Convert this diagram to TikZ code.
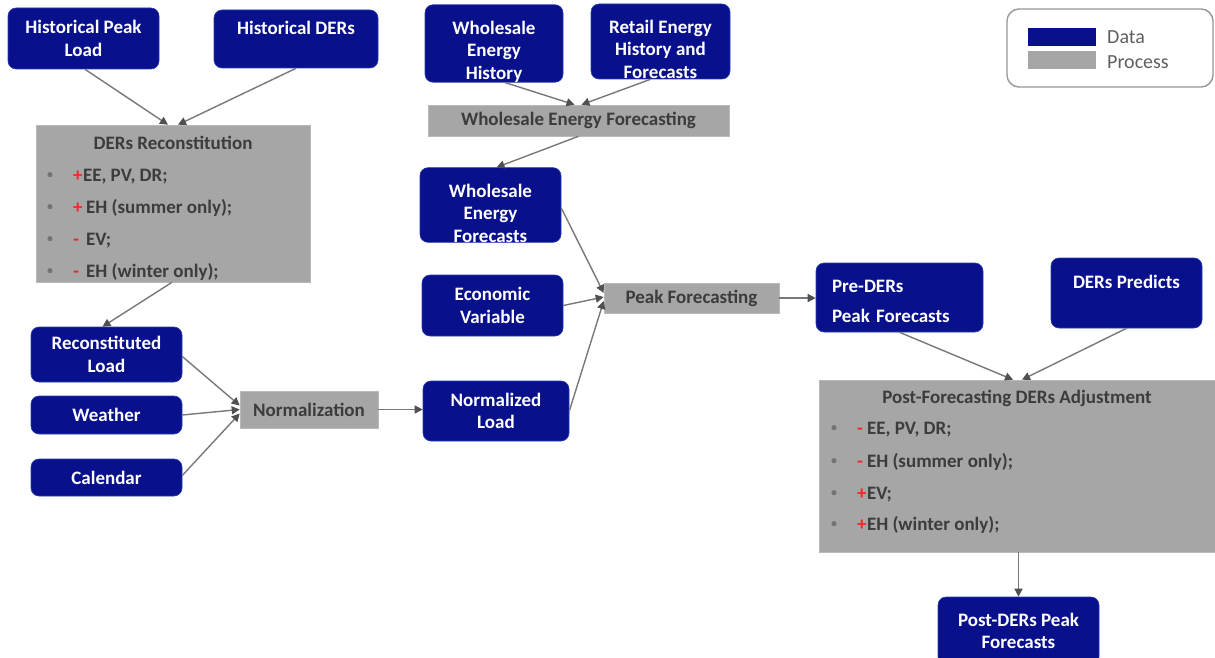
\documentclass[tikz,border=0pt]{standalone}
\usepackage{fontspec}
\setmainfont{Carlito}
\usetikzlibrary{arrows.meta}
\definecolor{navy}{RGB}{8,16,140}
\definecolor{navyedge}{RGB}{40,60,175}
\definecolor{procgray}{RGB}{166,166,166}
\definecolor{procedge}{RGB}{185,185,185}
\definecolor{proctext}{RGB}{60,60,60}
\definecolor{linegray}{RGB}{120,120,120}
\definecolor{tipgray}{RGB}{80,80,80}
\definecolor{signred}{RGB}{238,40,40}
\definecolor{bulletgray}{RGB}{115,115,115}
\definecolor{legendedge}{RGB}{150,150,150}
\definecolor{legendtext}{RGB}{95,95,95}
\newcommand\brow[3][]{\hspace*{-3pt}\makebox[26pt][l]{\raisebox{3pt}{\fontsize{12}{12}\selectfont\color{bulletgray}\textbullet}}\makebox[10pt][l]{\color{signred}#2}#1#3}
\tikzset{
  databox/.style={draw=navyedge, line width=0.6pt, fill=navy, rounded corners=8pt,
    text=white, font=\fontsize{19}{22.5}\selectfont\bfseries, align=center, inner sep=0pt},
  procbox/.style={draw=procedge, line width=0.6pt, fill=procgray, text=proctext,
    font=\fontsize{19}{22.5}\selectfont\bfseries, inner sep=0pt},
  conn/.style={draw=linegray, line width=1.4pt, -{Triangle[length=8pt,width=8pt,color=tipgray]}},
  legendbox/.style={draw=legendedge, line width=1.4pt, rounded corners=12pt, inner sep=0pt},
  swatch/.style={inner sep=0pt, minimum width=68pt, minimum height=18pt},
  legendlabel/.style={text=legendtext, font=\fontsize{20}{22}\selectfont, anchor=west, inner sep=0pt}
}
\begin{document}
\begin{tikzpicture}[x=1pt, y=-1pt]
\useasboundingbox (0,0) rectangle (1215,658);

% legend
\node[legendbox, minimum width=206pt, minimum height=78pt] (legend) at (1110,48) {};
\node[swatch, fill=navy] (legdata) at (1062,37) {};
\node[swatch, fill=procgray] (legproc) at (1062,60) {};
\node[legendlabel] (legdatatxt) at (1107,37) {Data};
\node[legendlabel] (legproctxt) at (1107,62) {Process};

% data boxes
\node[databox, minimum width=151pt, minimum height=61pt] (hpl) at (83.5,38.5) {Historical Peak\\Load};
\node[databox, minimum width=164pt, minimum height=58pt] (hders) at (296,39) {Historical DERs\\\mbox{}};
\node[databox, minimum width=138pt, minimum height=73pt] (weh) at (494,43.5) {\mbox{}\\[7pt]Wholesale\\Energy\\History};
\node[databox, minimum width=139pt, minimum height=75pt] (reh) at (660.5,41.5) {\mbox{}\\[6.5pt]Retail Energy\\History and\\Forecasts};
\node[databox, minimum width=141pt, minimum height=74pt] (wefc) at (490.5,205) {\mbox{}\\[7pt]Wholesale\\Energy\\Forecasts};
\node[databox, minimum width=141pt, minimum height=61pt] (econ) at (492.5,305.5) {Economic\\Variable};
\node[databox, minimum width=167pt, minimum height=69pt, align=left, text width=135pt] (pre) at (899.5,297.5) {\mbox{}\\[-2.5pt]Pre-DERs\\[8pt]Peak Forecasts};
\node[databox, minimum width=151pt, minimum height=70pt] (dpred) at (1126.5,293) {DERs Predicts\\\mbox{}};
\node[databox, minimum width=151pt, minimum height=55pt] (rload) at (106.5,354.5) {Reconstituted\\Load};
\node[databox, minimum width=151pt, minimum height=38pt] (weather) at (106.5,415) {Weather};
\node[databox, minimum width=151pt, minimum height=37pt] (calendar) at (106.5,477.5) {Calendar};
\node[databox, minimum width=146pt, minimum height=60pt] (nload) at (496,411) {Normalized\\Load};
\node[databox, minimum width=161pt, minimum height=68pt] (post) at (1018.5,631) {Post-DERs Peak\\Forecasts};

% process boxes
\node[procbox, minimum width=301pt, minimum height=31pt] (wef) at (578.5,120.5) {Wholesale Energy Forecasting};
\node[procbox, minimum width=175pt, minimum height=30pt] (peak) at (691.5,298) {Peak Forecasting};
\node[procbox, minimum width=138pt, minimum height=37pt] (norm) at (309,409.5) {Normalization};
\node[procbox, minimum width=274pt, minimum height=157pt, align=left] (recon) at (173,203.5)
  {\mbox{}\\[0pt]\makebox[246pt]{DERs Reconstitution}\\[9.5pt]
   \brow{+}{EE, PV, DR;}\\[9.5pt]
   \brow[\,]{+}{EH (summer only);}\\[9.5pt]
   \brow[\,]{-}{EV;}\\[9.5pt]
   \brow[\,]{-}{EH (winter only);}};
\node[procbox, minimum width=396pt, minimum height=172pt, align=left] (pfda) at (1017,466)
  {\makebox[366pt]{Post-Forecasting DERs Adjustment}\\[9pt]
   \brow{-}{EE, PV, DR;}\\[10pt]
   \brow{-}{EH (summer only);}\\[9.5pt]
   \brow{+}{EV;}\\[9pt]
   \brow{+}{EH (winter only);}\\[-11pt]\mbox{}};

% connectors
\draw[conn] ([xshift=1.5pt]hpl.south) -- ([xshift=-5pt]recon.north);
\draw[conn] (hders.south) -- ([xshift=5pt]recon.north);
\draw[conn] ([xshift=11pt]weh.south) -- ([xshift=-4pt]wef.north);
\draw[conn] ([xshift=-10pt]reh.south) -- ([xshift=3pt]wef.north);
\draw[conn] (wef.south) -- ([xshift=6pt]wefc.north);
\draw[conn] ([xshift=-1pt]recon.south) -- ([xshift=-4pt]rload.north);
\draw[conn] ([yshift=-2pt]rload.east) -- ([yshift=4pt]norm.west);
\draw[conn] (weather.east) -- (norm.west);
\draw[conn] ([yshift=2pt]calendar.east) -- ([yshift=-4pt]norm.west);
\draw[conn] (norm.east) -- (norm.east -| nload.west);
\draw[conn] ([yshift=-3pt]wefc.east) -- ([yshift=5pt]peak.west);
\draw[conn] (econ.east) -- ([yshift=1pt]peak.west);
\draw[conn] (nload.east) -- ([yshift=-3pt]peak.west);
\draw[conn] (peak.east) -- (peak.east -| pre.west);
\draw[conn] (pre.south) -- ([xshift=-4pt]pfda.north);
\draw[conn] (dpred.south) -- ([xshift=5pt]pfda.north);
\draw[conn] (pfda.south -| post.north) -- (post.north);
\end{tikzpicture}
\end{document}
